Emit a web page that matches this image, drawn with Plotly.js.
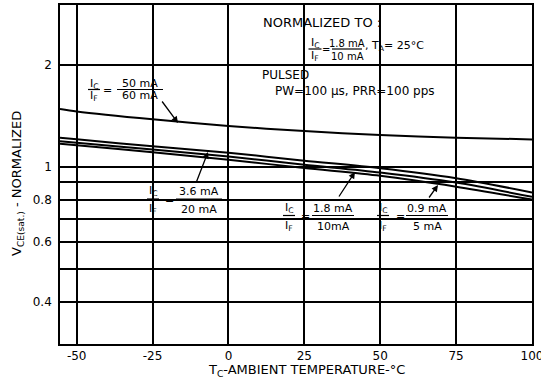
<!DOCTYPE html>
<html>
<head>
<meta charset="utf-8">
<script src="https://cdn.plot.ly/plotly-3.0.1.min.js"></script>
<style>html,body{margin:0;padding:0;background:#fff;}#chart{width:541px;height:379px;}</style>
</head>
<body>
<div id="chart"></div>
<script>
// ---- data ----
const temps = [-55.5, -50, -25, 0, 25, 50, 75, 100];
const curve50mA60mA = [1.48, 1.456, 1.38, 1.318, 1.274, 1.24, 1.218, 1.204];
const curve3p6mA20mA = [1.218, 1.205, 1.149, 1.10, 1.042, 0.99, 0.925, 0.84];
const curve1p8mA10mA = [1.19, 1.178, 1.124, 1.072, 1.014, 0.962, 0.898, 0.815];
const curve0p9mA5mA = [1.169, 1.157, 1.103, 1.049, 0.991, 0.94, 0.873, 0.80];
const xTickVals = [-50, -25, 0, 25, 50, 75, 100];
const xTickText = ['-50', '-25', '0', '25', '50', '75', '100'];
const yTickVals = [0.4, 0.5, 0.6, 0.7, 0.8, 0.9, 1, 2];
const yTickText = ['0.4', '', '0.6', '', '0.8', '', '1', '2'];

// ---- layout helpers (pixel -> paper) ----
const W = 541, H = 379, ML = 60, MR = 9, MT = 5, MB = 35;
const PW = W - ML - MR, PH = H - MT - MB;
const px = x => (x - ML) / PW;
const py = y => (H - MB - y) / PH;
const FONT = 'DejaVu Sans';
const fs = 11;

const annotations = [];
const shapes = [];

function txt(t, x, y, opts) {
  annotations.push(Object.assign({
    text: t, xref: 'paper', yref: 'paper', x: px(x), y: py(y),
    xanchor: 'center', yanchor: 'middle', showarrow: false,
    font: {family: FONT, size: fs, color: '#000'}
  }, opts || {}));
}
function bar(x0, x1, y) {
  shapes.push({type: 'line', xref: 'paper', yref: 'paper', x0: px(x0), x1: px(x1), y0: py(y), y1: py(y),
    line: {color: '#000', width: 1.2}, layer: 'above'});
}
function frac(cx, w, yNum, yBar, yDen, num, den, size) {
  const o = size ? {font: {family: FONT, size: size, color: '#000'}} : {};
  txt(num, cx, yNum, o);
  txt(den, cx, yDen, o);
  bar(cx - w / 2, cx + w / 2, yBar);
}
function box(x0, y0, x1, y1) {
  shapes.push({type: 'rect', xref: 'paper', yref: 'paper', x0: px(x0), x1: px(x1), y0: py(y0), y1: py(y1),
    fillcolor: '#fff', line: {width: 0}, layer: 'between'});
}
function arrow(tx, ty, sx, sy) {
  annotations.push({text: '', xref: 'paper', yref: 'paper', x: px(tx), y: py(ty),
    ax: sx - tx, ay: sy - ty, showarrow: true, arrowhead: 2, arrowsize: 1, arrowwidth: 1.3,
    arrowcolor: '#000'});
}

// white label boxes that interrupt the grid
box(79, 33, 189, 103);
box(252, 10, 443, 103);
box(140, 175, 226, 222);
box(275, 193, 454, 238);

// label 50 mA / 60 mA
frac(94, 12, 84, 89.5, 95.5, 'I<sub>C</sub>', 'I<sub>F</sub>');
txt('=', 107, 90);
frac(140, 46, 84, 89.5, 95.5, '50 mA', '60 mA');
arrow(178, 123, 161, 100);

// normalized box
txt('NORMALIZED TO :', 261, 23, {xanchor: 'left', font: {family: FONT, size: 13, color: '#000'}});
frac(315, 13, 43, 49, 56, 'I<sub>C</sub>', 'I<sub>F</sub>');
txt('=', 326, 50, {font: {family: FONT, size: 10, color: '#000'}});
frac(347, 30, 43, 49, 56, '1.8 mA', '10 mA', 10);
txt(', T<sub>A</sub>= 25°C', 363, 46, {xanchor: 'left'});
txt('PULSED', 260, 75, {xanchor: 'left', font: {family: FONT, size: 12, color: '#000'}});
txt('PW=100 μs, PRR=100 pps', 273, 91, {xanchor: 'left', font: {family: FONT, size: 12, color: '#000'}});

// label 3.6 mA / 20 mA
frac(153, 12, 191, 199, 209, 'I<sub>C</sub>', 'I<sub>F</sub>');
txt('=', 169, 200);
frac(199, 46, 191, 199, 209, '3.6 mA', '20 mA');
arrow(208, 152, 196, 183);

// label 1.8 mA / 10 mA
frac(289, 12, 208, 215.5, 226, 'I<sub>C</sub>', 'I<sub>F</sub>');
txt('=', 305, 216);
frac(333, 42, 208, 215.5, 226, '1.8 mA', '10mA');
arrow(355, 172, 338, 198);

// label 0.9 mA / 5 mA
frac(383, 12, 208, 215.5, 226, 'I<sub>C</sub>', 'I<sub>F</sub>');
txt('=', 400, 216);
frac(427, 42, 208, 215.5, 226, '0.9 mA', '5 mA');
arrow(438, 185, 428, 199);

// axis titles
txt('V<sub>CE(sat.)</sub> - NORMALIZED', 17, 184, {textangle: -90, font: {family: FONT, size: 13, color: '#000'}});
txt('T<sub>C</sub>-AMBIENT TEMPERATURE-°C', 306, 371, {font: {family: FONT, size: 13, color: '#000'}});

const lineStyle = w => ({color: '#000', width: w, shape: 'spline', smoothing: 0.8});
const traces = [
  {x: temps, y: curve50mA60mA, mode: 'lines', line: lineStyle(2), name: '50mA/60mA'},
  {x: temps, y: curve3p6mA20mA, mode: 'lines', line: lineStyle(2), name: '3.6mA/20mA'},
  {x: temps, y: curve1p8mA10mA, mode: 'lines', line: lineStyle(2), name: '1.8mA/10mA'},
  {x: temps, y: curve0p9mA5mA, mode: 'lines', line: lineStyle(2), name: '0.9mA/5mA'}
];

const axisCommon = {
  showgrid: true, gridcolor: '#000', gridwidth: 2, zeroline: false,
  showline: true, mirror: true, linecolor: '#000', linewidth: 1.8,
  tickfont: {family: FONT, size: 12, color: '#000'},
  ticklabeloverflow: 'allow'
};

const layout = {
  width: W, height: H,
  margin: {l: ML, r: MR, t: MT, b: MB, pad: 0},
  paper_bgcolor: '#fff', plot_bgcolor: '#fff',
  showlegend: false,
  xaxis: Object.assign({}, axisCommon, {
    range: [-55.5, 100], tickmode: 'array', tickvals: xTickVals, ticktext: xTickText,
    ticks: ''
  }),
  yaxis: Object.assign({}, axisCommon, {
    type: 'log', range: [Math.log10(0.3), Math.log10(3)],
    tickmode: 'array', tickvals: yTickVals, ticktext: yTickText,
    ticks: 'outside', ticklen: 4, tickcolor: 'rgba(0,0,0,0)'
  }),
  annotations: annotations,
  shapes: shapes
};

Plotly.newPlot('chart', traces, layout, {displayModeBar: false, staticPlot: true});
</script>
</body>
</html>
